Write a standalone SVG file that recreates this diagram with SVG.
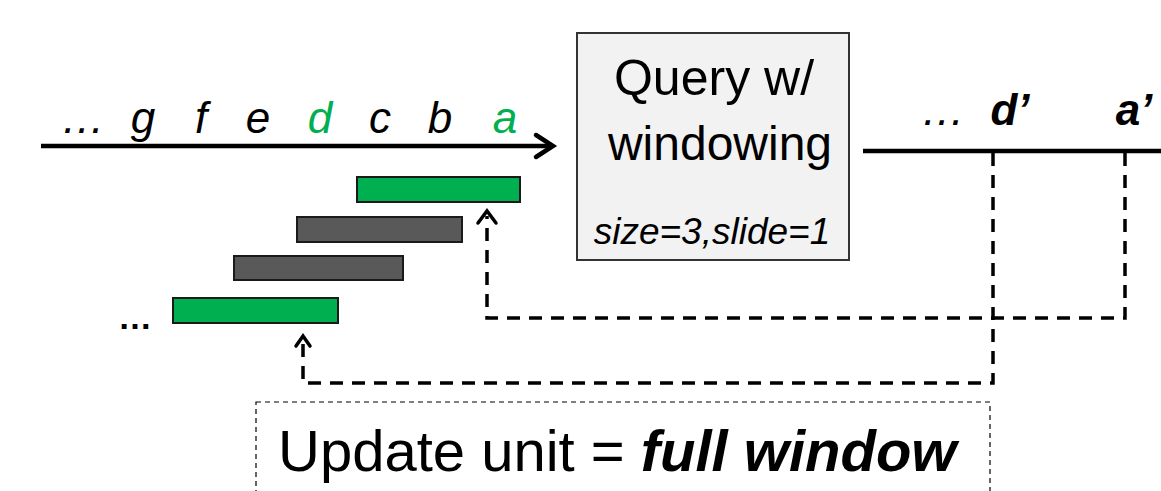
<svg xmlns="http://www.w3.org/2000/svg" width="1161" height="491" viewBox="0 0 1161 491">
<style>
.lbl{font-family:"Liberation Sans",Arial,sans-serif;font-style:italic;font-size:44px;fill:#000;text-anchor:middle}
.grn{fill:#00b050}
.bar{stroke:#1a1a1a;stroke-width:2}
.dash{fill:none;stroke:#000;stroke-width:3.5;stroke-dasharray:13,9}
.head{fill:none;stroke:#000;stroke-width:3.5;stroke-linecap:round;stroke-linejoin:miter}
</style>
<rect width="1161" height="491" fill="#fff"/>
<g id="input-stream">
<line x1="41" y1="146" x2="552" y2="146" stroke="#000" stroke-width="4.5"/>
<polyline points="536,135 553,146 536,157" fill="none" stroke="#000" stroke-width="4.5" stroke-linecap="round"/>
<text class="lbl" x="83" y="133">…</text>
<text class="lbl" x="143" y="133">g</text>
<text class="lbl" x="201" y="133">f</text>
<text class="lbl" x="258" y="133">e</text>
<text class="lbl grn" x="320" y="133">d</text>
<text class="lbl" x="380" y="133">c</text>
<text class="lbl" x="440" y="133">b</text>
<text class="lbl grn" x="505" y="133">a</text>
</g>
<g id="windows">
<rect class="bar" x="357" y="177" width="163" height="25" fill="#00b050"/>
<rect class="bar" x="297" y="217" width="165" height="25" fill="#595959"/>
<rect class="bar" x="234" y="256" width="169" height="24" fill="#595959"/>
<rect class="bar" x="173" y="298" width="165" height="25" fill="#00b050"/>
<text x="135" y="329" font-family="Liberation Sans,Arial,sans-serif" font-size="34" font-weight="bold" text-anchor="middle">…</text>
</g>
<g id="query">
<rect x="577" y="33" width="272" height="227" fill="#f2f2f2" stroke="#333" stroke-width="2"/>
<text x="714" y="95" font-family="Liberation Sans,Arial,sans-serif" font-size="50" text-anchor="middle">Query w/</text>
<text x="720" y="160" font-family="Liberation Sans,Arial,sans-serif" font-size="48" text-anchor="middle">windowing</text>
<text x="712" y="244" font-family="Liberation Sans,Arial,sans-serif" font-style="italic" font-size="37" text-anchor="middle">size=3,slide=1</text>
</g>
<g id="output-stream">
<line x1="863" y1="151" x2="1161" y2="151" stroke="#000" stroke-width="4.5"/>
<text class="lbl" x="943" y="125">…</text>
<text class="lbl" x="1010" y="125" font-weight="bold">d’</text>
<text class="lbl" x="1134" y="125" font-weight="bold">a’</text>
</g>
<g id="connectors">
<polyline class="dash" points="1125,153 1125,318 487,318 487,216"/>
<polyline class="head" points="478,223 487,211 496,223"/>
<polyline class="dash" points="993,153 993,383 303,383 303,340"/>
<polyline class="head" points="296,346 303,336 310,346"/>
</g>
<g id="update-unit">
<rect x="256" y="402" width="734" height="100" fill="none" stroke="#000" stroke-width="1.2" stroke-dasharray="5,4"/>
<text x="278" y="471" font-family="Liberation Sans,Arial,sans-serif" font-size="58">Update unit = <tspan font-weight="bold" font-style="italic">full window</tspan></text>
</g>
</svg>
